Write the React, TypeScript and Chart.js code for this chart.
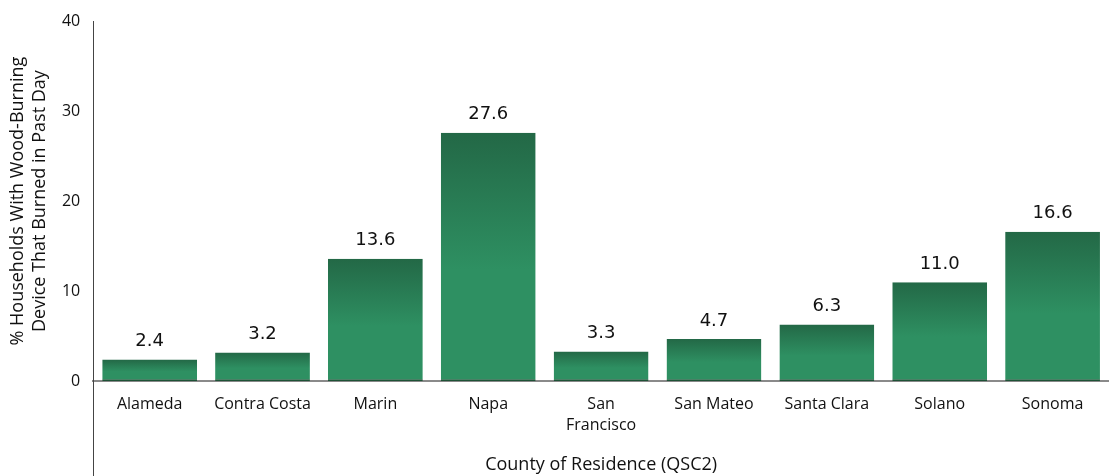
import React, { useEffect, useRef } from "react";
import { Chart, registerables } from "chart.js";

Chart.register(...registerables);

const categories: (string | string[])[] = [
  "Alameda",
  "Contra Costa",
  "Marin",
  "Napa",
  ["San", "Francisco"],
  "San Mateo",
  "Santa Clara",
  "Solano",
  "Sonoma",
];
const values: number[] = [2.4, 3.2, 13.6, 27.6, 3.3, 4.7, 6.3, 11.0, 16.6];
const yTicks: number[] = [0, 10, 20, 30, 40];
const yTitle: string[] = ["% Households With Wood-Burning", "Device That Burned in Past Day"];
const xTitle = "County of Residence (QSC2)";

const FONT = "'Open Sans', sans-serif";
const LABEL_FONT = "'DejaVu Sans', sans-serif";

export default function App() {
  const ref = useRef<HTMLCanvasElement | null>(null);

  useEffect(() => {
    if (!ref.current) return;

    const extras = {
      id: "extras",
      afterDatasetsDraw(chart: any) {
        const ctx = chart.ctx;
        const meta = chart.getDatasetMeta(0);
        ctx.save();
        ctx.fillStyle = "#111";
        ctx.font = `18px ${LABEL_FONT}`;
        ctx.textAlign = "center";
        ctx.textBaseline = "bottom";
        meta.data.forEach((bar: any, i: number) => {
          ctx.fillText(values[i].toFixed(1), bar.x, bar.y - 9);
        });
        ctx.restore();
      },
      afterDraw(chart: any) {
        const ctx = chart.ctx;
        const a = chart.chartArea;
        ctx.save();
        ctx.strokeStyle = "#444";
        ctx.lineWidth = 1;
        ctx.beginPath();
        ctx.moveTo(Math.round(a.left) + 0.5, a.top);
        ctx.lineTo(Math.round(a.left) + 0.5, chart.height);
        ctx.stroke();
        ctx.restore();
      },
    };

    const chart = new Chart(ref.current, {
      type: "bar",
      data: {
        labels: categories,
        datasets: [
          {
            data: values,
            backgroundColor: (c: any) => {
              const ch = c.chart;
              const ys = ch.scales.y;
              const v = c.raw;
              if (!ys || typeof v !== "number" || !ch.chartArea) return "#2e9062";
              const top = ys.getPixelForValue(v);
              const base = ys.getPixelForValue(0);
              if (!isFinite(top) || !isFinite(base) || base - top < 1) return "#2e9062";
              const g = ch.ctx.createLinearGradient(0, top, 0, base);
              g.addColorStop(0, "#236846");
              g.addColorStop(0.55, "#2e9062");
              g.addColorStop(1, "#2e9062");
              return g;
            },
            borderColor: "#1d5236",
            borderWidth: { top: 0, left: 0, right: 0, bottom: 2 },
            borderSkipped: false,
            barPercentage: 0.84,
            categoryPercentage: 1,
          },
        ],
      },
      options: {
        responsive: false,
        animation: false,
        layout: { padding: { top: 6, left: 7, right: 0, bottom: 0 } },
        plugins: {
          legend: { display: false },
          tooltip: { enabled: false },
        },
        scales: {
          x: {
            grid: { display: false, drawTicks: false },
            border: { display: true, color: "#8a8a8a", width: 2 },
            ticks: {
              color: "#111",
              font: { family: FONT, size: 16, lineHeight: 1.35 },
              padding: 12,
              maxRotation: 0,
              autoSkip: false,
            },
            title: {
              display: true,
              text: xTitle,
              color: "#111",
              font: { family: FONT, size: 18, lineHeight: 1.2 },
              padding: { top: 6, bottom: 0 },
            },
          },
          y: {
            min: 0,
            max: 40,
            afterBuildTicks: (s: any) => {
              s.ticks = yTicks.map((v) => ({ value: v }));
            },
            grid: { display: false, drawTicks: false },
            border: { display: false },
            ticks: {
              color: "#111",
              font: { family: FONT, size: 16, lineHeight: 1.0 },
              padding: 13,
            },
            title: {
              display: true,
              text: yTitle,
              color: "#111",
              font: { family: FONT, size: 18, lineHeight: 1.22 },
              padding: { top: 0, bottom: -2 },
            },
          },
        },
      },
      plugins: [extras],
    });

    return () => chart.destroy();
  }, []);

  return (
    <div style={{ position: "absolute", left: 0, top: 0, width: 1109, height: 476 }}>
      <canvas ref={ref} width={1109} height={476} style={{ width: 1109, height: 476 }} />
    </div>
  );
}
